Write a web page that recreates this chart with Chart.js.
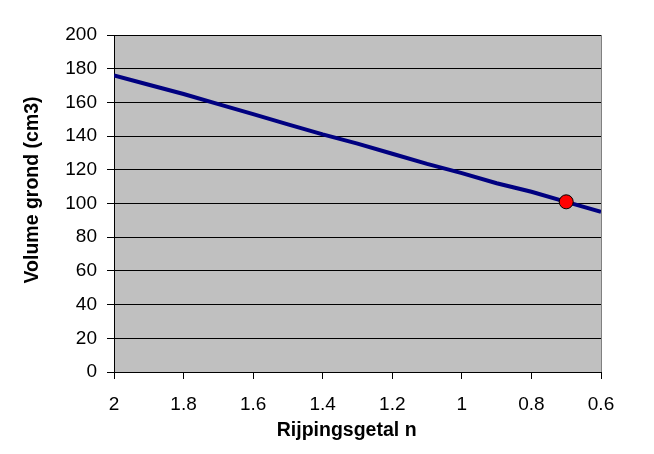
<!DOCTYPE html>
<html>
<head>
<meta charset="utf-8">
<style>
  body { margin: 0; background: #fff; }
</style>
</head>
<body>
    <canvas id="grafiek" width="654" height="454"></canvas>

    <script src="https://cdn.jsdelivr.net/npm/chart.js@4.4.1/dist/chart.umd.min.js"></script>
    <script>
        // rijpingsgetal n tegen volume grond
        const rijpingsgetal = [2, 1.9, 1.8, 1.7, 1.6, 1.5, 1.4, 1.3, 1.2, 1.1, 1.0, 0.9, 0.8, 0.7, 0.6];
        const volumeGrond = [176, 170.5, 165, 159, 153, 147, 141, 135.5, 129.5, 123.5, 118, 112, 107, 101, 95];

        // gemeten punt
        const puntN = [0.7];
        const puntVolume = [101];

        const xTicks = [2, 1.8, 1.6, 1.4, 1.2, 1, 0.8, 0.6];
        const yTicks = [0, 20, 40, 60, 80, 100, 120, 140, 160, 180, 200];

        const lijn = rijpingsgetal.map((n, i) => ({x: n, y: volumeGrond[i]}));
        const punt = puntN.map((n, i) => ({x: n, y: puntVolume[i]}));

        const plotAchtergrond = {
            id: 'plotAchtergrond',
            beforeDraw(chart) {
                const {ctx, chartArea: a} = chart;
                ctx.save();
                ctx.fillStyle = '#c0c0c0';
                ctx.fillRect(a.left, a.top, a.right - a.left, a.bottom - a.top);
                ctx.restore();
            },
            beforeDatasetsDraw(chart) {
                const {ctx, chartArea: a} = chart;
                ctx.save();
                ctx.strokeStyle = '#808080';
                ctx.lineWidth = 1;
                ctx.beginPath();
                ctx.moveTo(a.right + 0.5, a.top);
                ctx.lineTo(a.right + 0.5, a.bottom);
                ctx.stroke();
                ctx.restore();
            }
        };

        Chart.defaults.font.family = '"Liberation Sans", Arial, sans-serif';
        Chart.defaults.color = '#000';

        new Chart('grafiek', {
            type: 'scatter',
            data: {
                datasets: [{
                    data: punt,
                    backgroundColor: '#ff0000',
                    borderColor: '#000',
                    borderWidth: 1,
                    pointRadius: 7
                }, {
                    data: lijn,
                    showLine: true,
                    borderColor: '#000080',
                    borderWidth: 4,
                    pointRadius: 0
                }]
            },
            options: {
                responsive: false,
                animation: false,
                events: [],
                layout: {padding: {top: 35, right: 53, left: 0, bottom: 0}},
                plugins: {legend: {display: false}, tooltip: {enabled: false}},
                scales: {
                    x: {
                        type: 'linear',
                        reverse: true,
                        min: 0.6,
                        max: 2,
                        afterBuildTicks: s => { s.ticks = xTicks.map(v => ({value: v})); },
                        afterFit: s => { s.height = 82; },
                        grid: {drawOnChartArea: false, color: '#000', tickLength: 7, tickColor: '#000'},
                        border: {color: '#000', width: 1},
                        ticks: {font: {size: 19}, padding: 14, maxRotation: 0, callback: v => String(v)},
                        // spaties achteraan: titel staat iets links van het midden
                        title: {display: true, text: 'Rijpingsgetal n    ', font: {size: 19.5, weight: 'bold'}, padding: {top: 0, bottom: 12}}
                    },
                    y: {
                        min: 0,
                        max: 200,
                        afterBuildTicks: s => { s.ticks = yTicks.map(v => ({value: v})); },
                        afterFit: s => { s.width = 114; },
                        grid: {color: '#000', tickLength: 7, tickColor: '#000'},
                        border: {color: '#000', width: 1},
                        ticks: {font: {size: 19}, padding: 10},
                        // spaties vooraan: titel staat iets boven het midden
                        title: {display: true, text: '     Volume grond (cm3)', font: {size: 19.5, weight: 'bold'}, padding: {top: 21, bottom: 0}}
                    }
                }
            },
            plugins: [plotAchtergrond]
        });
    </script>
</body>
</html>
